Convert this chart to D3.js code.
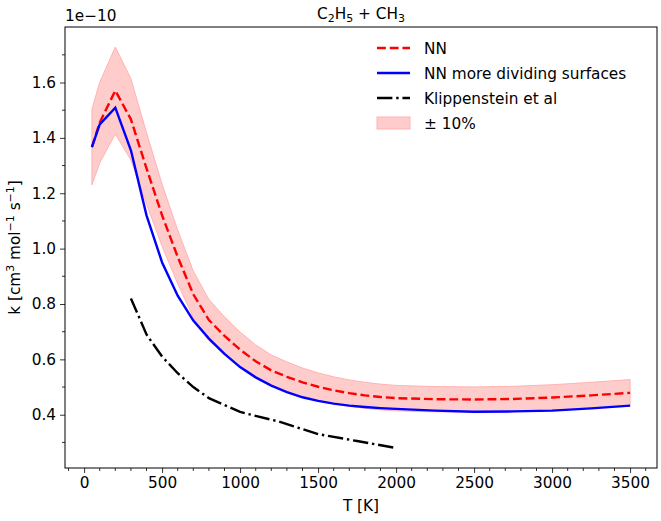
<!DOCTYPE html>
<html>
<head>
<meta charset="utf-8">
<script src="https://cdn.jsdelivr.net/npm/d3@7"></script>
<style>
  body { margin: 0; background: #fff; }
  text { font-family: "DejaVu Sans", sans-serif; fill: #000; }
</style>
</head>
<body>
<script>
// Temperatures [K] and rate constants (units of 1e-10)
var T_nn = [50, 100, 200, 300, 400, 500, 600, 700, 800, 900, 1000, 1100, 1200, 1300, 1400, 1500,
            1600, 1700, 1800, 1900, 2000, 2250, 2500, 2750, 3000, 3250, 3500];
var k_nn = [1.367, 1.455, 1.571, 1.467, 1.29, 1.12, 0.97, 0.835, 0.742, 0.685, 0.635, 0.593, 0.56, 0.537, 0.517, 0.501,
            0.488, 0.478, 0.47, 0.464, 0.46, 0.456, 0.455, 0.457, 0.462, 0.47, 0.479];
var k_more = [1.367, 1.449, 1.509, 1.355, 1.12, 0.95, 0.83, 0.74, 0.675, 0.62, 0.572, 0.535, 0.505, 0.482, 0.463, 0.45,
              0.44, 0.433, 0.428, 0.424, 0.421, 0.415, 0.411, 0.412, 0.415, 0.423, 0.433];
var T_klip = [300, 400, 500, 600, 700, 800, 900, 1000, 1250, 1500, 1750, 2000];
var k_klip = [0.82, 0.69, 0.61, 0.55, 0.50, 0.46, 0.435, 0.41, 0.375, 0.33, 0.305, 0.28];
var band_frac = 0.1;

var xticks = [0, 500, 1000, 1500, 2000, 2500, 3000, 3500];
var yticks = [0.4, 0.6, 0.8, 1.0, 1.2, 1.4, 1.6];

var legend_labels = ["NN", "NN more dividing surfaces", "Klippenstein et al", "\u00b1 10%"];

// figure geometry
var W = 661, H = 521;
var margin = {top: 27, right: 4, bottom: 53, left: 65};
var width = W - margin.left - margin.right,
    height = H - margin.top - margin.bottom;
var fs = 15.3;

var svg = d3.select("body").append("svg")
    .attr("width", W)
    .attr("height", H);

// matplotlib style 5% margins
var xmin = d3.min(T_nn), xmax = d3.max(T_nn);
var xpad = (xmax - xmin) * 0.05;
var lo = d3.min(k_klip), hi = d3.max(k_nn) * (1 + band_frac);
var ypad = (hi - lo) * 0.05;

var x = d3.scaleLinear().domain([xmin - xpad, xmax + xpad]).range([0, width]);
var y = d3.scaleLinear().domain([lo - ypad, hi + ypad]).range([height, 0]);

var g = svg.append("g")
    .attr("transform", "translate(" + margin.left + "," + margin.top + ")");

var nn = T_nn.map(function(t, i) { return {t: t, k: k_nn[i]}; });
var more = T_nn.map(function(t, i) { return {t: t, k: k_more[i]}; });
var klip = T_klip.map(function(t, i) { return {t: t, k: k_klip[i]}; });

// +/- 10% band
var area = d3.area()
    .x(function(d) { return x(d.t); })
    .y0(function(d) { return y(d.k * (1 - band_frac)); })
    .y1(function(d) { return y(d.k * (1 + band_frac)); });

g.append("path")
    .datum(nn)
    .attr("d", area)
    .attr("fill", "#ffcccc")
    .attr("stroke", "#ffb3b3")
    .attr("stroke-width", 1);

var line = d3.line()
    .x(function(d) { return x(d.t); })
    .y(function(d) { return y(d.k); });

var lw = 2.4;
var dashed = [3.7 * lw, 1.6 * lw].join(","),
    dashdot = [6.4 * lw, 1.6 * lw, 1 * lw, 1.6 * lw].join(",");

g.append("path")
    .datum(nn)
    .attr("d", line)
    .attr("fill", "none")
    .attr("stroke", "red")
    .attr("stroke-width", lw)
    .attr("stroke-dasharray", dashed);

g.append("path")
    .datum(more)
    .attr("d", line)
    .attr("fill", "none")
    .attr("stroke", "blue")
    .attr("stroke-width", lw);

g.append("path")
    .datum(klip)
    .attr("d", line)
    .attr("fill", "none")
    .attr("stroke", "black")
    .attr("stroke-width", lw)
    .attr("stroke-dasharray", dashdot);

// ****************** axes ***************************

var xAxis = g.append("g")
    .attr("transform", "translate(0," + height + ")")
    .call(d3.axisBottom(x).tickValues(xticks).tickFormat(d3.format("d")).tickSize(5).tickPadding(4));

var xMinor = d3.range(-100, 3700, 100).filter(function(v) { return xticks.indexOf(v) < 0; });
xAxis.selectAll(".minor")
    .data(xMinor)
  .enter().append("line")
    .attr("class", "minor")
    .attr("x1", function(d) { return x(d); })
    .attr("x2", function(d) { return x(d); })
    .attr("y1", 0).attr("y2", 3)
    .attr("stroke", "#000")
    .attr("stroke-width", 0.8);

var yAxis = g.append("g")
    .call(d3.axisLeft(y).tickValues(yticks).tickFormat(d3.format(".1f")).tickSize(5).tickPadding(4));

var yMinor = [0.3, 0.5, 0.7, 0.9, 1.1, 1.3, 1.5, 1.7];
yAxis.selectAll(".minor")
    .data(yMinor)
  .enter().append("line")
    .attr("class", "minor")
    .attr("y1", function(d) { return y(d); })
    .attr("y2", function(d) { return y(d); })
    .attr("x1", 0).attr("x2", -3)
    .attr("stroke", "#000")
    .attr("stroke-width", 0.8);

svg.selectAll(".tick text")
    .style("font-size", fs + "px")
    .style("font-family", "DejaVu Sans, sans-serif")
    .attr("fill", "#1a1a1a");
svg.selectAll(".domain").remove();
svg.selectAll(".tick line").attr("stroke-width", 0.8);

// frame
g.append("rect")
    .attr("width", width)
    .attr("height", height)
    .attr("fill", "none")
    .attr("stroke", "#000")
    .attr("stroke-width", 1);

// ****************** texts ***************************

var sub = 11;
var title = svg.append("text")
    .attr("x", margin.left + width / 2)
    .attr("y", 19)
    .attr("text-anchor", "middle")
    .style("font-size", fs + "px");
title.append("tspan").text("C");
title.append("tspan").attr("dy", 3).style("font-size", sub + "px").text("2");
title.append("tspan").attr("dy", -3).text("H");
title.append("tspan").attr("dy", 3).style("font-size", sub + "px").text("5");
title.append("tspan").attr("dy", -3).text(" + CH");
title.append("tspan").attr("dy", 3).style("font-size", sub + "px").text("3");

svg.append("text")
    .attr("x", margin.left)
    .attr("y", 21)
    .style("font-size", fs + "px")
    .text("1e\u221210");

svg.append("text")
    .attr("x", margin.left + width / 2)
    .attr("y", 511)
    .attr("text-anchor", "middle")
    .style("font-size", fs + "px")
    .text("T [K]");

var ylab = svg.append("text")
    .attr("transform", "translate(20," + (margin.top + height / 2) + ") rotate(-90)")
    .attr("text-anchor", "middle")
    .style("font-size", fs + "px");
ylab.append("tspan").text("k [cm");
ylab.append("tspan").attr("dy", -6).style("font-size", sub + "px").text("3");
ylab.append("tspan").attr("dy", 6).text(" mol");
ylab.append("tspan").attr("dy", -6).style("font-size", sub + "px").text("\u22121");
ylab.append("tspan").attr("dy", 6).text(" s");
ylab.append("tspan").attr("dy", -6).style("font-size", sub + "px").text("\u22121");
ylab.append("tspan").attr("dy", 6).text("]");

// ****************** legend ***************************

var legend = svg.append("g").attr("transform", "translate(377,48)");
var styles = [
  {stroke: "red", dash: dashed},
  {stroke: "blue", dash: null},
  {stroke: "black", dash: dashdot},
  null
];

legend_labels.forEach(function(lab, i) {
  var yy = i * 25;
  var s = styles[i];
  if (s) {
    legend.append("line")
      .attr("x1", 0).attr("x2", 33)
      .attr("y1", yy).attr("y2", yy)
      .attr("stroke", s.stroke)
      .attr("stroke-width", lw)
      .attr("stroke-dasharray", s.dash);
  } else {
    legend.append("rect")
      .attr("x", 0).attr("y", yy - 6)
      .attr("width", 33).attr("height", 12)
      .attr("fill", "#ffcccc")
      .attr("stroke", "#ffb3b3");
  }
  legend.append("text")
    .attr("x", 47)
    .attr("y", yy + 5.5)
    .style("font-size", fs + "px")
    .text(lab);
});
</script>
</body>
</html>
